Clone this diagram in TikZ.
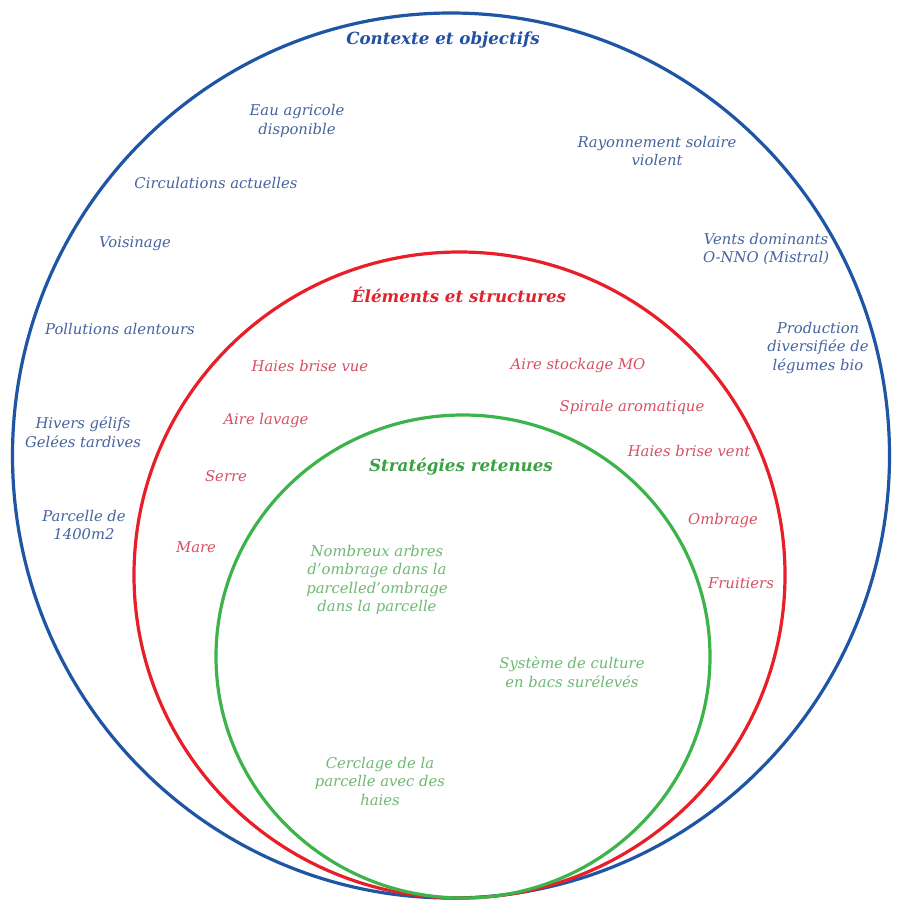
\documentclass[tikz,border=0pt]{standalone}
\usepackage{fontspec}
\setmainfont{DejaVu Serif}
\definecolor{cblue}{RGB}{30,85,165}
\definecolor{tblue}{RGB}{35,80,160}
\definecolor{bblue}{RGB}{70,100,160}
\definecolor{cred}{RGB}{232,30,40}
\definecolor{tred}{RGB}{225,35,45}
\definecolor{bred}{RGB}{215,80,100}
\definecolor{cgreen}{RGB}{60,180,75}
\definecolor{tgreen}{RGB}{60,160,70}
\definecolor{bgreen}{RGB}{110,185,115}
\tikzset{
  ring/.style={line width=3.2pt},
  lbl/.style={inner sep=0pt, align=center, font=\fontsize{14.8}{18.5}\selectfont\itshape},
  head/.style={inner sep=0pt, align=center, font=\fontsize{16.7}{20}\selectfont\bfseries\itshape},
  bluelbl/.style={lbl, text=bblue},
  redlbl/.style={lbl, text=bred},
  greenlbl/.style={lbl, text=bgreen},
}
\begin{document}
\begin{tikzpicture}[x=1pt,y=-1pt]
\useasboundingbox[fill=white] (0,0) rectangle (901,900);
% rings
\coordinate (cb) at (451,455.5);
\coordinate (cr) at (459.5,575);
\coordinate (cg) at (463,656.5);
\draw[ring, cblue] (cb) ellipse [x radius=438.5pt, y radius=442.5pt];
\draw[ring, cred] (cr) ellipse [x radius=325.5pt, y radius=323pt];
\draw[ring, cgreen] (cg) ellipse [x radius=247pt, y radius=241.5pt];
% blue
\node[head, text=tblue] (hb) at (443,40) {Contexte et objectifs};
\node[bluelbl] (b1) at (297,121) {Eau agricole\\disponible};
\node[bluelbl] (b2) at (657,151) {Rayonnement solaire\\violent};
\node[bluelbl] (b3) at (216,183) {Circulations actuelles};
\node[bluelbl] (b4) at (135,244) {Voisinage};
\node[bluelbl] (b5) at (766,249) {Vents dominants\\O-NNO (Mistral)};
\node[bluelbl] (b6) at (120,329) {Pollutions alentours};
\node[bluelbl] (b7) at (818,348) {Production\\diversifiée de\\légumes bio};
\node[bluelbl] (b8) at (83,432) {Hivers gélifs\\Gelées tardives};
\node[bluelbl] (b9) at (84,525) {Parcelle de\\1400m2};
% red
\node[head, text=tred] (hr) at (459,295) {Éléments et structures};
\node[redlbl] (r1) at (310,366) {Haies brise vue};
\node[redlbl] (r2) at (578,366) {Aire stockage MO};
\node[redlbl] (r3) at (632,407) {Spirale aromatique};
\node[redlbl] (r4) at (266,421) {Aire lavage};
\node[redlbl] (r5) at (689,451) {Haies brise vent};
\node[redlbl] (r6) at (226,476) {Serre};
\node[redlbl] (r7) at (723,521) {Ombrage};
\node[redlbl] (r8) at (196,547) {Mare};
\node[redlbl] (r9) at (741,583) {Fruitiers};
% green
\node[head, text=tgreen] (hg) at (461,467) {Stratégies retenues};
\node[greenlbl] (g1) at (377,580) {Nombreux arbres\\d'ombrage dans la\\parcelled'ombrage\\dans la parcelle};
\node[greenlbl] (g2) at (572,672) {Système de culture\\en bacs surélevés};
\node[greenlbl] (g3) at (380,781) {Cerclage de la\\parcelle avec des\\haies};
\end{tikzpicture}
\end{document}
